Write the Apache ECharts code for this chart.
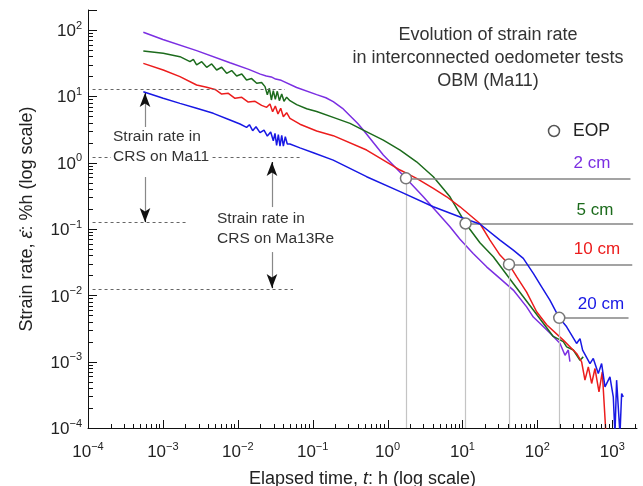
<!DOCTYPE html>
<html><head><meta charset="utf-8">
<script src="https://cdn.jsdelivr.net/npm/echarts@6/dist/echarts.min.js"></script>
<style>html,body{margin:0;padding:0;background:#fff}#c{width:643px;height:486px}</style>
</head><body><div id="c"></div>
<script>
const FONT = "'Liberation Sans', Arial, Helvetica, sans-serif";

// axis ranges and tick labels
const xMin = 1e-4, xMax = 2140, yMin = 1e-4, yMax = 200;
const xMajor = [1e-4, 1e-3, 1e-2, 1e-1, 1, 10, 100, 1000];
const yMajor = [1e-4, 1e-3, 1e-2, 1e-1, 1, 10, 100];

// series: [elapsed time (h), strain rate (%/h)]
const cm2 = [
 [5.48e-4, 92.3], [1.0e-3, 72.0], [2.82e-3, 48.8], [7.87e-3, 32.1], [1.4e-2, 25.5],
 [2.0e-2, 21.6], [2.4e-2, 20.2], [2.8e-2, 19.6], [3.2e-2, 18.2], [3.8e-2, 17.4],
 [6.11e-2, 13.6], [0.113, 10.6], [0.15, 9.5], [0.188, 8.3], [0.25, 6.6], [0.315, 5.1],
 [0.4, 3.9], [0.474, 3.1], [0.877, 1.30], [1.76, 0.58], [3.0, 0.306], [6.81, 0.108],
 [9.27, 0.070], [13.9, 0.0428], [21.0, 0.0269], [31.6, 0.018], [47.7, 0.012],
 [71.9, 0.0067], [88.3, 0.0047], [108, 0.0038], [147, 0.0027], [200, 0.0019],
 [234, 0.00125], [259, 0.0015], [272, 0.001]
];
const cm5 = [
 [5.48e-4, 48.2], [1.01e-3, 44.5], [1.69e-3, 39.6], [2.30e-3, 33.3], [2.55e-3, 36.1],
 [2.82e-3, 29.7], [3.30e-3, 33.3], [3.84e-3, 27.4], [4.48e-3, 30.7], [5.22e-3, 24.9],
 [6.09e-3, 27.4], [7.10e-3, 22.2], [8.28e-3, 24.4], [9.66e-3, 20.2], [1.13e-2, 21.7],
 [1.31e-2, 17.6], [1.53e-2, 18.5], [1.79e-2, 15.7], [2.08e-2, 16.1], [2.31e-2, 14.0],
 [2.48e-2, 10.5], [2.64e-2, 13.2], [2.81e-2, 8.8], [2.98e-2, 12.2], [3.17e-2, 9.0],
 [3.37e-2, 11.9], [3.59e-2, 8.6], [3.86e-2, 10.8], [4.14e-2, 8.4], [4.49e-2, 9.7],
 [4.97e-2, 8.6], [6.11e-2, 7.5], [8.31e-2, 6.5], [0.113, 5.9], [0.188, 4.82],
 [0.315, 3.91], [0.474, 3.10], [0.877, 2.19], [1.47, 1.55], [2.44, 1.03],
 [4.08, 0.614], [6.81, 0.306], [11.0, 0.121], [17.1, 0.062], [25.8, 0.0381],
 [47.7, 0.0151], [88.3, 0.006], [120, 0.0038], [163, 0.0024], [222, 0.0020],
 [246, 0.00167], [302, 0.0015], [371, 0.00105], [410, 0.00118]
];
const cm10 = [
 [5.48e-4, 31.4], [1.01e-3, 24.9], [1.69e-3, 19.8], [2.82e-3, 14.8], [3.84e-3, 13.7],
 [4.97e-3, 12.7], [6.09e-3, 10.8], [7.48e-3, 11.1], [9.18e-3, 9.33], [1.13e-2, 9.66],
 [1.38e-2, 8.2], [1.70e-2, 8.4], [2.08e-2, 7.31], [2.43e-2, 6.82], [2.69e-2, 7.66],
 [2.92e-2, 5.86], [3.17e-2, 7.15], [3.44e-2, 5.41], [3.74e-2, 6.59], [4.06e-2, 4.93],
 [4.49e-2, 5.66], [4.97e-2, 4.66], [6.76e-2, 3.8], [0.113, 3.0], [0.188, 2.55],
 [0.525, 1.55], [1.47, 0.774], [2.44, 0.58], [4.08, 0.409], [6.15, 0.306],
 [9.27, 0.216], [17.1, 0.121], [23.3, 0.068], [31.7, 0.0404], [41.8, 0.0292],
 [52.8, 0.0191], [71.9, 0.0112], [97.8, 0.00565], [133, 0.0036], [222, 0.00211],
 [334, 0.00133], [390, 0.000995], [432, 0.000526], [479, 0.000836], [531, 0.000469],
 [588, 0.000788], [665, 0.000351], [736, 0.000703], [824, 0.00008]
];
const cm20 = [
 [5.48e-4, 11.7], [1.01e-3, 9.32], [1.69e-3, 7.83], [2.82e-3, 6.59], [4.71e-3, 5.54],
 [7.87e-3, 4.4], [1.07e-2, 3.82], [1.31e-2, 3.4], [1.43e-2, 3.73], [1.58e-2, 3.03],
 [1.75e-2, 3.48], [1.98e-2, 2.83], [2.24e-2, 3.1], [2.48e-2, 2.52], [2.75e-2, 2.9],
 [2.98e-2, 2.14], [3.14e-2, 2.77], [3.30e-2, 1.82], [3.48e-2, 2.64], [3.66e-2, 1.78],
 [3.86e-2, 2.58], [4.06e-2, 1.78], [4.31e-2, 2.46], [4.58e-2, 1.91], [4.97e-2, 1.91],
 [6.76e-2, 1.67], [0.102, 1.41], [0.188, 1.09], [0.525, 0.614], [1.47, 0.365],
 [4.08, 0.216], [11.4, 0.139], [17.1, 0.119], [31.7, 0.068], [47.7, 0.048],
 [64.9, 0.036], [88.3, 0.0214], [114, 0.01345], [147, 0.00847], [196, 0.00458],
 [246, 0.00335], [334, 0.00188], [371, 0.00223], [402, 0.00149], [504, 0.000937],
 [558, 0.00112], [651, 0.000663], [721, 0.000937], [800, 0.000417], [931, 0.00059],
 [1032, 0.000295], [1087, 0.00008], [1143, 0.000526], [1268, 0.00008], [1334, 0.000331],
 [1403, 0.000295]
];

// end of primary consolidation
const eopLabels = ['2 cm', '5 cm', '10 cm', '20 cm'];
const eopTime = [1.76, 11.0, 41.8, 196];
const eopRate = [0.58, 0.121, 0.0292, 0.00458];
const eopLineEnd = [1750, 1900, 1850, 1650];

// CRS strain rates
const crsMa11 = [12.6, 0.126];
const crsMa11End = [0.0427, 0.00203];
const crsMa13Re = [1.22, 0.0122];
const crsMa13ReEnd = [0.0676, 0.0546];
const dashStart = 1.15e-4;
const arrowMa11T = 5.77e-4;
const arrowMa11 = [[3.33, 11.2], [0.607, 0.127]];
const arrowMa13ReT = 0.0286;
const arrowMa13Re = [[0.214, 1.02], [0.0449, 0.01285]];

const colors = ['#7b2fe2', '#1c6b1c', '#ec1c1c', '#1818e4'];
const seriesData = [cm2, cm5, cm10, cm20];

const PX_Y = 418 / Math.log10(yMax / yMin);

function minorTicks(maxV) {
  const out = [];
  for (let e = -4; e <= 3; e++) for (let k = 2; k <= 9; k++) {
    const v = k * Math.pow(10, e);
    if (v < maxV * 0.999) out.push(v);
  }
  return out;
}
const sup = v => {
  const e = Math.round(Math.log10(v));
  return '{b|10}{s|' + (e < 0 ? '\u2212' + (-e) : e) + '}';
};
const labelRich = {
  b: { fontSize: 17, fontFamily: FONT, color: '#222', padding: [3, 0, 0, 0] },
  s: { fontSize: 11, fontFamily: FONT, color: '#222', verticalAlign: 'top' }
};

const guideLines = [];
eopTime.forEach((t, i) => {
  guideLines.push([{ coord: [t, eopRate[i]], lineStyle: { color: '#c4c4c4', width: 1.2, type: 'solid' } }, { coord: [t, yMin] }]);
  guideLines.push([{ coord: [t, eopRate[i]], lineStyle: { color: '#858585', width: 1.6, type: 'solid' } }, { coord: [eopLineEnd[i], eopRate[i]] }]);
});
const dashStyle = { color: '#666', width: 1, type: [3, 3] };
guideLines.push([{ coord: [dashStart, crsMa11[0]], lineStyle: dashStyle }, { coord: [crsMa11End[0], crsMa11[0]] }]);
guideLines.push([{ coord: [dashStart, crsMa11[1]], lineStyle: dashStyle }, { coord: [crsMa11End[1], crsMa11[1]] }]);
guideLines.push([{ coord: [dashStart, crsMa13Re[0]], lineStyle: dashStyle }, { coord: [crsMa13ReEnd[0], crsMa13Re[0]] }]);
guideLines.push([{ coord: [dashStart, crsMa13Re[1]], lineStyle: dashStyle }, { coord: [crsMa13ReEnd[1], crsMa13Re[1]] }]);
// arrows: grey shaft, black head (head drawn on a short segment ending at the tip)
const headFactor = Math.pow(10, 9 / PX_Y);
[[arrowMa11T, arrowMa11], [arrowMa13ReT, arrowMa13Re]].forEach(([t, arr]) => {
  arr.forEach(([a, b]) => {
    guideLines.push([
      { coord: [t, a], lineStyle: { color: '#888', width: 1.2, type: 'solid' }, symbol: 'none' },
      { coord: [t, b], symbol: 'none' }
    ]);
    const pre = b > a ? b / headFactor : b * headFactor;
    guideLines.push([
      { coord: [t, pre], lineStyle: { color: '#111', width: 1, type: 'solid' }, symbol: 'none' },
      { coord: [t, b], symbol: 'arrow', symbolSize: [8, 14] }
    ]);
  });
});

const nameStyle = { fontSize: 18, fontFamily: FONT, color: '#222', rich: { i: { fontSize: 18, fontFamily: FONT, fontStyle: 'italic', color: '#222' } } };

const textGraphics = [
  { type: 'text', x: 488, y: 23.5, z: 100, style: { text: 'Evolution of strain rate\nin interconnected oedometer tests\nOBM (Ma11)', fontSize: 18, fontFamily: FONT, fill: '#333', align: 'center', verticalAlign: 'top', lineHeight: 23 } },
  { type: 'text', x: 111, y: 127, z: 100, style: { text: 'Strain rate in\nCRS on Ma11', fontSize: 15.5, fontFamily: FONT, fill: '#333', align: 'left', verticalAlign: 'top', lineHeight: 20, backgroundColor: '#fff', padding: [0, 2, 0, 2] } },
  { type: 'text', x: 215, y: 209, z: 100, style: { text: 'Strain rate in\nCRS on Ma13Re', fontSize: 15.5, fontFamily: FONT, fill: '#333', align: 'left', verticalAlign: 'top', lineHeight: 19.5, backgroundColor: '#fff', padding: [0, 2, 0, 2] } },
  { type: 'circle', z: 100, shape: { cx: 554, cy: 131, r: 5.5 }, style: { fill: '#fff', stroke: '#555', lineWidth: 1.5 } },
  { type: 'text', x: 573, y: 131, z: 100, style: { text: 'EOP', fontSize: 17.5, fontFamily: FONT, fill: '#222', align: 'left', verticalAlign: 'middle' } },
  { type: 'text', x: 592, y: 163, z: 100, style: { text: eopLabels[0], fontSize: 17, fontFamily: FONT, fill: colors[0], align: 'center', verticalAlign: 'middle' } },
  { type: 'text', x: 595, y: 210, z: 100, style: { text: eopLabels[1], fontSize: 17, fontFamily: FONT, fill: colors[1], align: 'center', verticalAlign: 'middle' } },
  { type: 'text', x: 597, y: 249, z: 100, style: { text: eopLabels[2], fontSize: 17, fontFamily: FONT, fill: colors[2], align: 'center', verticalAlign: 'middle' } },
  { type: 'text', x: 601, y: 304, z: 100, style: { text: eopLabels[3], fontSize: 17, fontFamily: FONT, fill: colors[3], align: 'center', verticalAlign: 'middle' } }
];

const chart = echarts.init(document.getElementById('c'), null, { renderer: 'canvas' });
const option = {
  animation: false,
  backgroundColor: '#fff',
  grid: { left: 88, right: 6, top: 10, bottom: 58, containLabel: false, outerBoundsMode: 'none' },
  xAxis: {
    type: 'log', logBase: 10, min: xMin, max: xMax, position: 'bottom',
    name: 'Elapsed time, {i|t}: h (log scale)', nameLocation: 'middle', nameGap: 42,
    nameTextStyle: nameStyle,
    axisLine: { lineStyle: { color: '#111', width: 1 } },
    axisTick: { show: false },
    axisLabel: { customValues: xMajor, formatter: sup, rich: labelRich, margin: 13 },
    splitLine: { show: false }, minorTick: { show: false }
  },
  yAxis: {
    type: 'log', logBase: 10, min: yMin, max: yMax, position: 'left',
    name: 'Strain rate, {i|\u03B5\u0307}: %h (log scale)', nameLocation: 'middle', nameGap: 52,
    nameTextStyle: nameStyle,
    axisLine: { lineStyle: { color: '#111', width: 1 } },
    axisTick: { show: false },
    axisLabel: { customValues: yMajor, formatter: sup, rich: labelRich, margin: 6 },
    splitLine: { show: false }, minorTick: { show: false }
  },
  series: [
    {
      type: 'line', name: 'guides', data: [], z: 1, silent: true,
      markLine: { silent: true, symbol: 'none', label: { show: false }, animation: false, data: guideLines }
    }
  ].concat(seriesData.map((d, i) => ({
    type: 'line', name: eopLabels[i], data: d,
    showSymbol: false, symbol: 'none', z: 2 + i, clip: true,
    lineStyle: { color: colors[i], width: 1.5 }
  }))).concat([
    {
      type: 'scatter', name: 'EOP', z: 10, symbol: 'circle', symbolSize: 11,
      data: eopTime.map((t, i) => [t, eopRate[i]]),
      itemStyle: { color: '#fff', borderColor: '#777', borderWidth: 1.5, opacity: 1 }
    }
  ]),
  graphic: textGraphics
};
chart.setOption(option);

// inside axis ticks, positioned through the chart's own axis scales
const tickGraphics = [];
const origin = chart.convertToPixel('grid', [xMin, yMin]);
function addXTick(v, len) {
  const p = chart.convertToPixel('grid', [v, yMin]);
  if (!p || !isFinite(p[0])) return;
  const px = Math.round(p[0]) + 0.5;
  tickGraphics.push({ type: 'line', z: 50, silent: true, shape: { x1: px, y1: origin[1], x2: px, y2: origin[1] - len }, style: { stroke: '#111', lineWidth: 1 } });
}
function addYTick(v, len) {
  const p = chart.convertToPixel('grid', [xMin, v]);
  if (!p || !isFinite(p[1])) return;
  const py = Math.round(p[1]) + 0.5;
  tickGraphics.push({ type: 'line', z: 50, silent: true, shape: { x1: origin[0], y1: py, x2: origin[0] + len, y2: py }, style: { stroke: '#111', lineWidth: 1 } });
}
if (origin && isFinite(origin[0]) && isFinite(origin[1])) {
  xMajor.forEach(v => addXTick(v, 8));
  minorTicks(xMax).forEach(v => addXTick(v, 4));
  yMajor.concat([yMax]).forEach(v => addYTick(v, 9));
  minorTicks(yMax).forEach(v => addYTick(v, 5));
}
chart.setOption({ graphic: textGraphics.concat(tickGraphics) });
</script>
</body></html>
